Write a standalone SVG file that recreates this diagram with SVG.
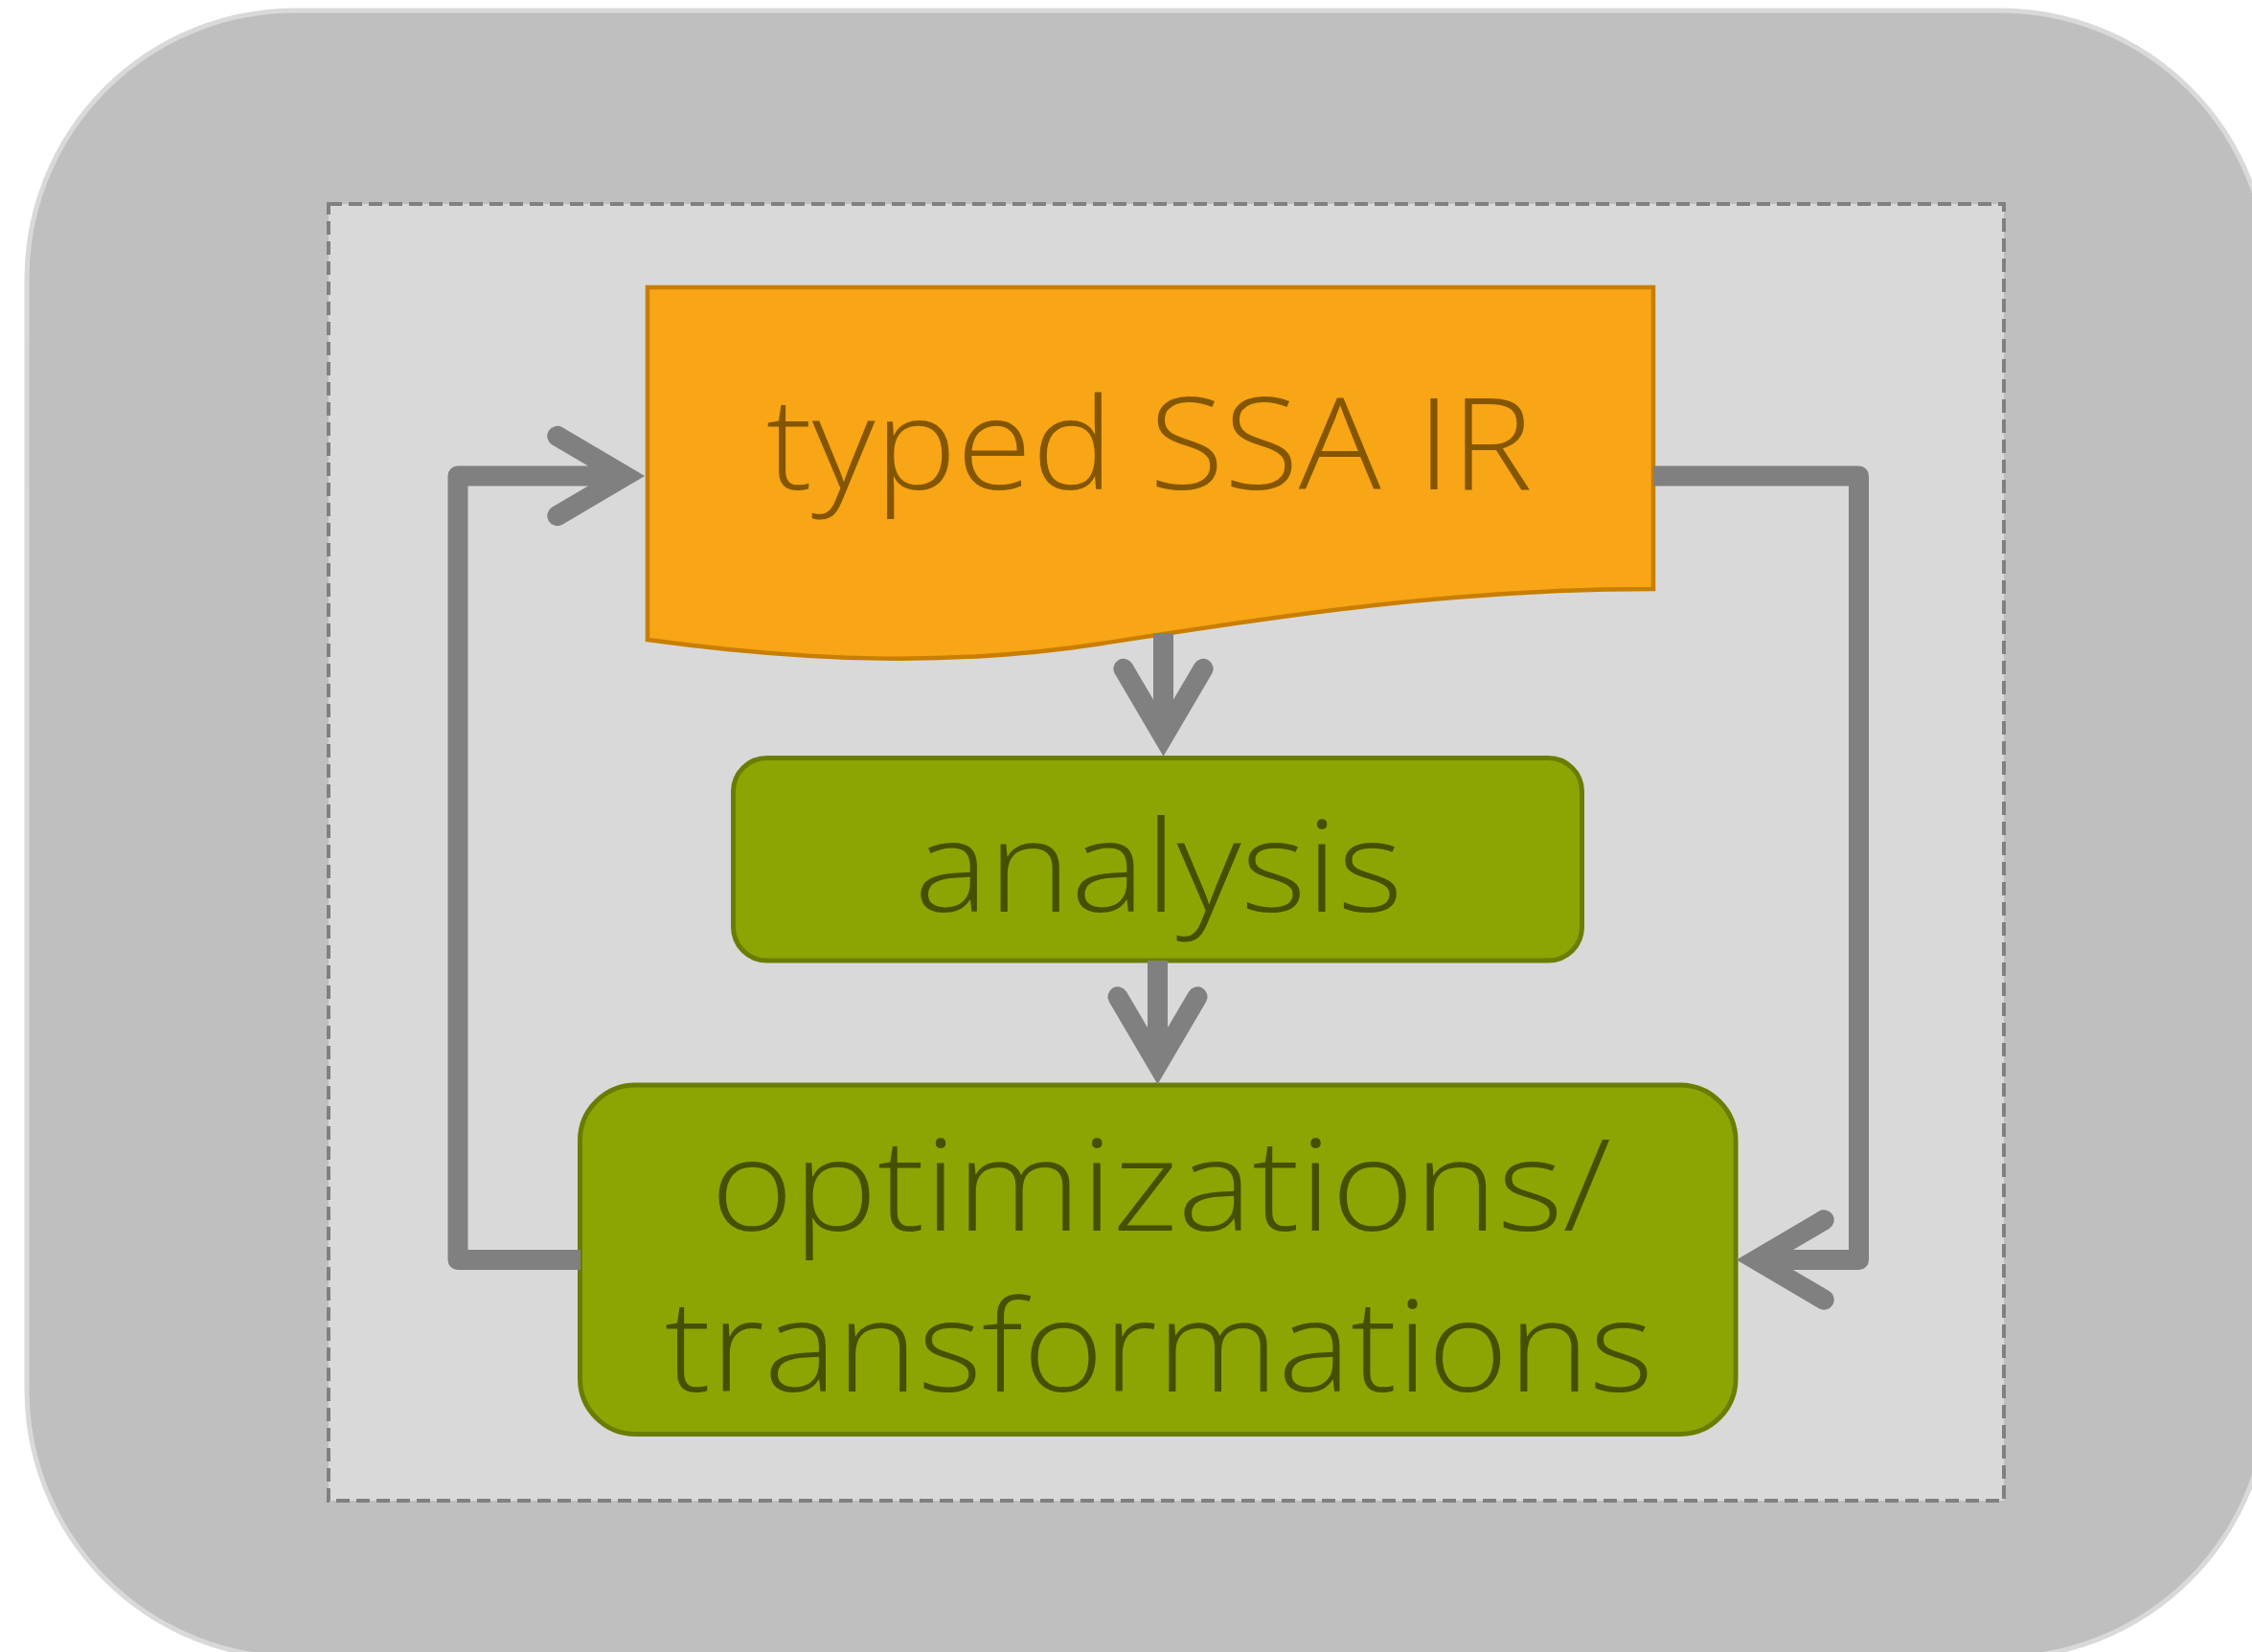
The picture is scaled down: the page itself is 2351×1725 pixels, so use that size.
<svg xmlns="http://www.w3.org/2000/svg" width="2351" height="1725" viewBox="0 0 2351 1725">
  <defs>
    <style>
      .bg { fill: #ffffff; }
      .outer { fill: #bfbfbf; stroke: #d9d9d9; stroke-width: 5; }
      .frame { fill: #d9d9d9; stroke: #808080; stroke-width: 4; stroke-dasharray: 14 7; }
      .doc { fill: #f8a516; stroke: #c87e00; stroke-width: 4.5; stroke-linejoin: miter; }
      .proc { fill: #8ca503; stroke: #6b7d00; stroke-width: 5; }
      .label { font-family: "Open Sans", "Noto Sans", "Liberation Sans", sans-serif; font-size: 132px; font-weight: 300; text-anchor: middle; }
      .docText { fill: #845600; }
      .procText { fill: #475000; }
      .line { fill: none; stroke: #808080; stroke-width: 21; stroke-linejoin: round; stroke-linecap: butt; }
      .head { fill: none; stroke: #808080; stroke-width: 21; stroke-linejoin: miter; stroke-miterlimit: 10; stroke-linecap: round; }
    </style>
  </defs>
  <rect class="bg" x="0" y="0" width="2351" height="1725"/>
  <rect class="outer" x="28" y="11" width="2340" height="1720" rx="280" ry="280"/>
  <rect class="frame" x="343" y="213" width="1749" height="1354"/>

  <g id="node-typed-ssa-ir">
    <path class="doc" d="M676,300 L1726,300 L1726,615 C1500,615 1300,649 1150,672 C1000,695 850,692 676,668 Z"/>
    <text class="label docText" x="1200" y="511" textLength="800" lengthAdjust="spacingAndGlyphs">typed SSA IR</text>
  </g>

  <g id="node-analysis">
    <rect class="proc" x="765.5" y="791.5" width="886" height="211.5" rx="35" ry="35"/>
    <text class="label procText" x="1209.5" y="952" textLength="510" lengthAdjust="spacingAndGlyphs">analysis</text>
  </g>

  <g id="node-optimizations">
    <rect class="proc" x="605.5" y="1133" width="1206.5" height="364.5" rx="58" ry="58"/>
    <text class="label procText" x="1212" y="1285" textLength="940" lengthAdjust="spacingAndGlyphs">optimizations/</text>
    <text class="label procText" x="1210" y="1453" textLength="1032" lengthAdjust="spacingAndGlyphs">transformations</text>
  </g>

  <g id="connectors">
    <path class="line" d="M1214.5,661 L1214.5,770"/>
    <path class="head" d="M1172.9,698.3 L1214.5,769 L1256.1,698.3"/>
    <path class="line" d="M1208.5,1003 L1208.5,1112"/>
    <path class="head" d="M1166.9,1040.8 L1208.5,1111.5 L1250.1,1040.8"/>
    <path class="line" d="M606,1315.5 L478,1315.5 L478,497 L653,497"/>
    <path class="head" d="M581.8,455.4 L652.5,497 L581.8,538.6"/>
    <path class="line" d="M1726,497 L1940.5,497 L1940.5,1315.5 L1833,1315.5"/>
    <path class="head" d="M1904.2,1273.9 L1833.5,1315.5 L1904.2,1357.1"/>
  </g>
</svg>
